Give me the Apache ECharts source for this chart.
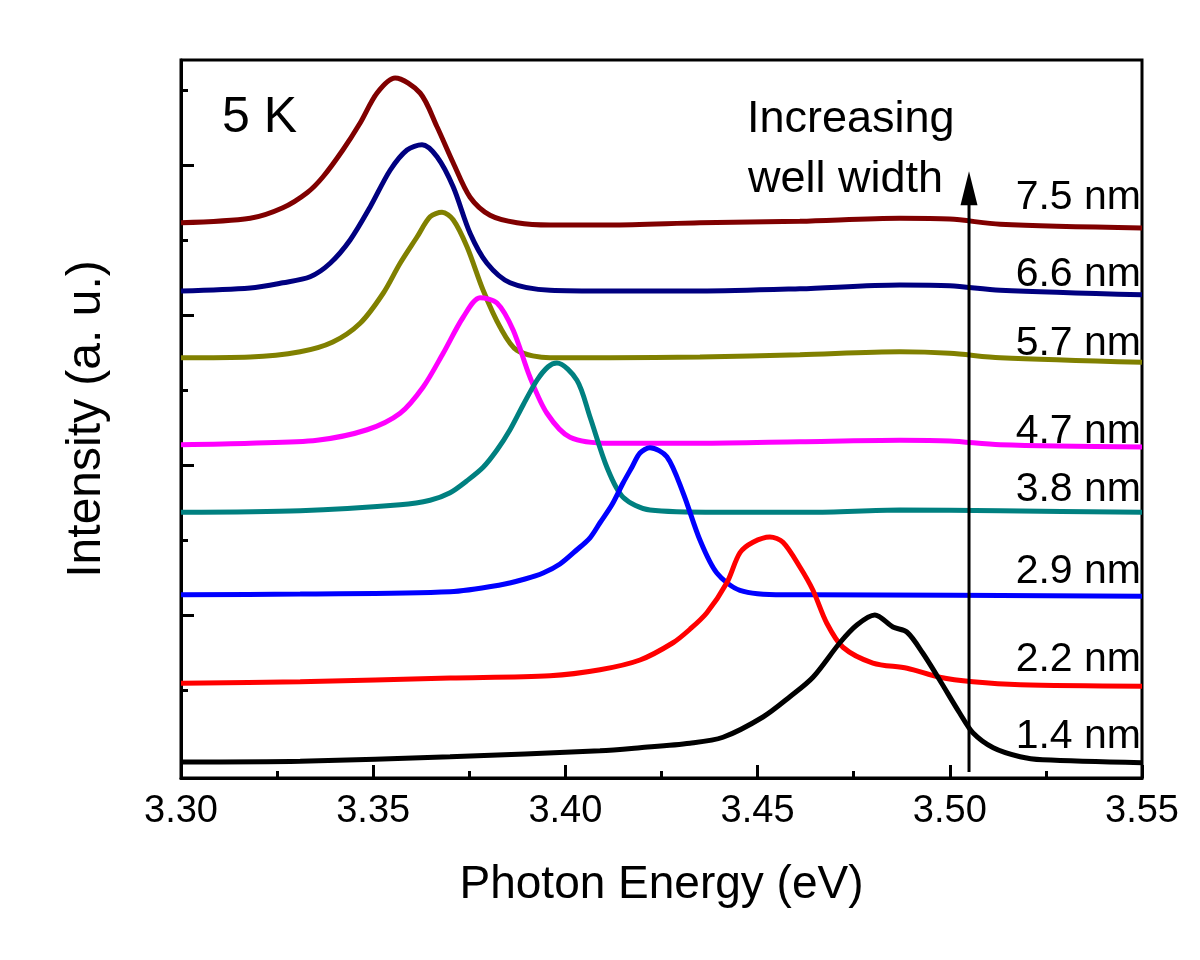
<!DOCTYPE html>
<html>
<head>
<meta charset="utf-8">
<script src="https://cdn.jsdelivr.net/npm/echarts@6/dist/echarts.min.js"></script>
<style>html,body{margin:0;padding:0;background:#fff;}#c{width:1200px;height:960px;}</style>
</head>
<body>
<div id="c"></div>
<script>
// ---- data (x in eV, y in arbitrary offset units) ----
const x_75 = [3.300,3.318,3.3265,3.3328,3.3369,3.3421,3.3466,3.3510,3.3557,3.3622,3.3666,3.3708,3.3752,3.3804,3.3874,3.3960,3.4116,3.4350,3.4610,3.4870,3.5000,3.5131,3.5500];
const y_75 = [7.23,7.29,7.43,7.63,7.84,8.20,8.56,8.96,9.16,8.96,8.51,8.03,7.57,7.33,7.23,7.20,7.20,7.23,7.25,7.29,7.28,7.21,7.16];

const x_66 = [3.300,3.318,3.3265,3.3336,3.3388,3.3440,3.3492,3.3544,3.3588,3.3627,3.3666,3.3708,3.3752,3.3796,3.3856,3.3960,3.4116,3.4350,3.4610,3.4870,3.5000,3.5131,3.5500];
const y_66 = [6.32,6.36,6.43,6.51,6.69,7.00,7.44,7.93,8.20,8.27,8.11,7.71,7.09,6.69,6.43,6.33,6.32,6.32,6.35,6.40,6.39,6.33,6.27];

const x_57 = [3.300,3.318,3.331,3.3395,3.3466,3.3526,3.3570,3.3614,3.3648,3.3679,3.3708,3.3744,3.3786,3.3830,3.3874,3.3960,3.4116,3.4350,3.4610,3.4870,3.5000,3.5131,3.5500];
const y_57 = [5.43,5.44,5.51,5.64,5.89,6.29,6.69,7.04,7.31,7.37,7.27,6.91,6.33,5.84,5.53,5.43,5.43,5.44,5.47,5.51,5.49,5.43,5.37];

const x_47 = [3.300,3.318,3.3354,3.3484,3.3570,3.3630,3.3682,3.3734,3.3778,3.3822,3.3864,3.3908,3.3952,3.4012,3.4116,3.4350,3.4610,3.4870,3.5000,3.5131,3.5500];
const y_47 = [4.27,4.29,4.33,4.47,4.69,5.04,5.49,5.97,6.23,6.16,5.80,5.17,4.69,4.37,4.29,4.29,4.31,4.33,4.32,4.27,4.24];

const x_38 = [3.300,3.331,3.3570,3.3648,3.3700,3.3744,3.3786,3.3822,3.3856,3.3890,3.3926,3.3955,3.3978,3.4030,3.4064,3.4108,3.4150,3.4220,3.4394,3.4636,3.4870,3.5131,3.5500];
const y_38 = [3.37,3.39,3.47,3.53,3.63,3.79,3.97,4.20,4.47,4.80,5.13,5.31,5.36,5.13,4.64,3.97,3.57,3.40,3.37,3.37,3.40,3.39,3.37];

const x_29 = [3.300,3.331,3.3700,3.3830,3.3895,3.3942,3.3986,3.4030,3.4064,3.4090,3.4121,3.4150,3.4173,3.4194,3.4220,3.4264,3.4306,3.4350,3.4394,3.4454,3.4566,3.4636,3.5500];
const y_29 = [2.27,2.28,2.31,2.40,2.48,2.56,2.68,2.87,3.03,3.23,3.47,3.76,3.97,4.16,4.23,4.11,3.63,3.00,2.56,2.33,2.27,2.27,2.25];

const x_22 = [3.300,3.331,3.3700,3.3960,3.4090,3.4194,3.4280,3.4324,3.4368,3.4420,3.4454,3.4488,3.4532,3.4566,3.4610,3.4644,3.4680,3.4722,3.4800,3.4889,3.4974,3.5060,3.5183,3.5500];
const y_22 = [1.09,1.11,1.16,1.19,1.27,1.40,1.63,1.81,2.03,2.43,2.83,2.97,3.04,2.97,2.64,2.33,1.89,1.57,1.36,1.29,1.17,1.11,1.07,1.05];

const x_14 = [3.300,3.331,3.3700,3.4090,3.4194,3.4324,3.4410,3.4514,3.4584,3.4644,3.4714,3.4759,3.4805,3.4852,3.4889,3.4930,3.4974,3.5026,3.5060,3.5113,3.5183,3.5242,3.5500];
const y_14 = [0.04,0.05,0.11,0.19,0.23,0.29,0.37,0.64,0.91,1.17,1.63,1.87,2.00,1.84,1.77,1.49,1.13,0.69,0.43,0.23,0.11,0.07,0.03];

const seriesNames = ['7.5 nm','6.6 nm','5.7 nm','4.7 nm','3.8 nm','2.9 nm','2.2 nm','1.4 nm'];
const seriesX = [x_75,x_66,x_57,x_47,x_38,x_29,x_22,x_14];
const seriesY = [y_75,y_66,y_57,y_47,y_38,y_29,y_22,y_14];
const seriesColors = ['#800000','#000080','#808000','#FF00FF','#008080','#0000FF','#FF0000','#000000'];

const xTicks = [3.30,3.35,3.40,3.45,3.50,3.55];
const yMajorTicks = [2,4,6,8];
const yMinorTicks = [1,3,5,7,9];
const yMin = -0.1733, yMax = 9.4;

// arrow annotation (data coords)
const arrowX = 3.505, arrowY0 = -0.093, arrowY1 = 7.55, arrowHeadY = 7.69;

const FONT = '"Liberation Sans", Arial, Helvetica, sans-serif';

const chart = echarts.init(document.getElementById('c'), null, {renderer:'canvas'});

const lineSeries = seriesNames.map((n,i)=>({
  name:n, type:'line', xAxisIndex:0, yAxisIndex:0,
  data: seriesX[i].map((x,k)=>[x, seriesY[i][k]]),
  smooth:0.3, showSymbol:false, symbol:'none',
  lineStyle:{color:seriesColors[i], width:5}, itemStyle:{color:seriesColors[i]},
  z: 3, silent:true, animation:false
}));

const labelYs = [198,275,344,432,490,572,660,737];

const option = {
  animation:false,
  backgroundColor:'#ffffff',
  grid:{left:181, right:58, top:60, bottom:182, show:true, borderColor:'#000', borderWidth:3, backgroundColor:'transparent'},
  xAxis:[{
    type:'value', min:3.30, max:3.55, interval:0.05,
    axisLine:{show:true, onZero:false, lineStyle:{color:'#000', width:3}},
    axisTick:{show:true, inside:true, length:13, lineStyle:{color:'#000', width:3}},
    minorTick:{show:true, splitNumber:2, length:7, lineStyle:{color:'#000', width:3}},
    splitLine:{show:false}, minorSplitLine:{show:false},
    axisLabel:{show:true, fontSize:38, color:'#000', fontFamily:FONT, margin:15,
      formatter:v=>v.toFixed(2)},
    name:'Photon Energy (eV)', nameLocation:'middle', nameGap:84,
    nameTextStyle:{fontSize:46, color:'#000', fontFamily:FONT}
  }],
  yAxis:[{
    type:'value', min:yMin, max:yMax,
    axisLine:{show:true, onZero:false, lineStyle:{color:'#000', width:3}},
    axisTick:{show:true, inside:true, length:13, customValues:yMajorTicks, lineStyle:{color:'#000', width:3}},
    axisLabel:{show:false},
    splitLine:{show:false},
    name:'Intensity (a. u.)', nameLocation:'middle', nameGap:70,
    nameTextStyle:{fontSize:48, color:'#000', fontFamily:FONT}
  },{
    type:'value', min:yMin, max:yMax, position:'left',
    axisLine:{show:false},
    axisTick:{show:true, inside:true, length:7, customValues:yMinorTicks, lineStyle:{color:'#000', width:3}},
    axisLabel:{show:false},
    splitLine:{show:false}
  }],
  series: lineSeries.concat([
    {type:'line', name:'arrowShaft', xAxisIndex:0, yAxisIndex:0,
     data:[[arrowX, arrowY0],[arrowX, arrowY1]], showSymbol:false, symbol:'none',
     lineStyle:{color:'#000', width:3}, z:4, silent:true},
    {type:'scatter', name:'arrowHead', xAxisIndex:0, yAxisIndex:0,
     data:[[arrowX, arrowHeadY]], symbol:'triangle', symbolSize:[17,34],
     itemStyle:{color:'#000', opacity:1}, z:5, silent:true}
  ]),
  graphic: [
    {type:'text', left:222, top:93, style:{text:'5 K', font:'50px '+FONT, fill:'#000'}, z:10},
    {type:'text', left:747, top:97, style:{text:'Increasing', font:'45px '+FONT, fill:'#000'}, z:10},
    {type:'text', left:748, top:157, style:{text:'well width', font:'45px '+FONT, fill:'#000'}, z:10}
  ].concat(seriesNames.map((n,i)=>({
    type:'text', x:1141, y:labelYs[i], z:10,
    style:{text:n, font:'41px '+FONT, fill:'#000', align:'right', verticalAlign:'middle'}
  })))
};
chart.setOption(option);
</script>
</body>
</html>
